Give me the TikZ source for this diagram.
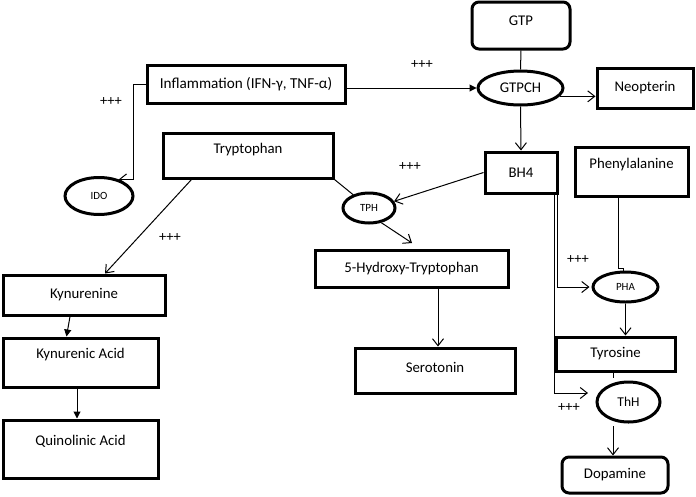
\documentclass[tikz,border=0pt]{standalone}
\usepackage{fontspec}
\setmainfont{Carlito}
\usetikzlibrary{arrows.meta,shapes.geometric}
\begin{document}
\begin{tikzpicture}[x=1pt,y=-1pt,
  big/.style={font=\fontsize{14.8}{17}\selectfont},
  box/.style={draw,rectangle,line width=3pt,inner sep=0pt,big},
  rbox/.style={box,rounded corners=7pt},
  enz/.style={draw,ellipse,line width=3pt,inner sep=0pt,fill=white},
  lift/.style={text depth=#1},
  conn/.style={line width=1pt},
  openarr/.style={conn,-{Straight Barb[length=7pt,width=11pt,line width=1pt]}},
  solidarr/.style={conn,-{Triangle[length=7pt,width=7pt]}},
  plus/.style={font=\fontsize{14.5}{16}\selectfont,inner sep=0pt},
  small/.style={font=\fontsize{11}{13}\selectfont}
]
\useasboundingbox (0,0) rectangle (696,496);

% nodes
\node[rbox,minimum width=98pt,minimum height=47pt,lift=9.6pt] (gtp) at (521,25.5) {GTP};
\node[enz,minimum width=85pt,minimum height=34pt,big] (gtpch) at (520.5,88) {GTPCH};
\node[box,minimum width=96pt,minimum height=40pt] (neo) at (645,88) {Neopterin};
\node[box,minimum width=198pt,minimum height=38pt,font=\fontsize{15.2}{17}\selectfont] (infl) at (246,84) {Inflammation (IFN-γ, TNF-α)};
\node[box,minimum width=170pt,minimum height=45pt,lift=13.6pt] (trp) at (248,155.5) {Tryptophan};
\node[enz,minimum width=68pt,minimum height=37pt,small] (ido) at (99,196) {IDO};
\node[box,minimum width=162pt,minimum height=40pt] (kyn) at (84,295) {Kynurenine};
\node[box,minimum width=155pt,minimum height=49pt,lift=17.6pt] (kyna) at (80.5,362.5) {Kynurenic Acid};
\node[box,minimum width=155pt,minimum height=58pt,lift=17.6pt] (quin) at (80.5,449) {Quinolinic Acid};
\node[enz,minimum width=52pt,minimum height=30pt,small] (tph) at (369,208) {TPH};
\node[box,minimum width=72pt,minimum height=41pt] (bh4) at (521,172.5) {BH4};
\node[box,minimum width=193pt,minimum height=37pt] (htp) at (411.5,268.5) {5-Hydroxy-Tryptophan};
\node[box,minimum width=160pt,minimum height=45pt,lift=7pt] (sero) at (435,370.5) {Serotonin};
\node[box,minimum width=113pt,minimum height=49pt,lift=16.6pt] (phe) at (631.5,171.5) {Phenylalanine};
\node[enz,minimum width=65pt,minimum height=30pt,small] (pha) at (625.5,287) {PHA};
\node[enz,minimum width=63pt,minimum height=40pt,font=\fontsize{13.5}{15}\selectfont] (thh) at (628.5,402) {ThH};
\node[box,minimum width=119pt,minimum height=34pt] (tyr) at (615.5,354) {Tyrosine};
\node[rbox,minimum width=106pt,minimum height=36pt] (dopa) at (615,475) {Dopamine};

% labels
\node[plus] (p1) at (422,65) {+++};
\node[plus] (p2) at (111,102) {+++};
\node[plus] (p3) at (170,238) {+++};
\node[plus] (p4) at (410,167) {+++};
\node[plus] (p5) at (578,260) {+++};
\node[plus] (p6) at (569,408) {+++};

% helper coordinates
\coordinate (tx) at (613,0);
\coordinate (tphend) at (412,243);
\coordinate (thin) at (588,393);

% connectors
\draw[conn] (gtp.south) -- (gtpch.north);
\draw[solidarr] (gtpch.west -| infl.east) -- (gtpch.west);
\draw[openarr] (gtpch.-12) -- (gtpch.-12 -| neo.west);
\draw[openarr] (gtpch.south) -- (bh4.north);
\draw[openarr] (infl.west) -- ++(-12,0) |- (ido.40);
\draw[openarr] ([xshift=30pt]trp.south west) -- ([xshift=21pt]kyn.north);
\draw[conn] (trp.south east) -- (tph.140);
\draw[openarr] (bh4.west) -- (tph.15);
\draw[openarr] (tph.-50) -- (tphend);
\draw[openarr] ([xshift=3pt]sero.north |- htp.south) -- ([xshift=3pt]sero.north);
\draw[solidarr] ([xshift=-14pt]kyn.south) -- ([xshift=-14pt]kyna.north);
\draw[solidarr] ([xshift=-3.5pt]kyna.south) -- ([xshift=-3.5pt]quin.north);
\draw[openarr,shorten >=2pt] ([xshift=-1pt]bh4.south east) |- (pha.west);
\draw[openarr] ([xshift=-4pt]bh4.south east) |- (thin);
\draw[conn] ([xshift=-13.5pt]phe.south) -- ++(0,71) -- ++(5,0) -- ([xshift=-2.5pt]pha.north);
\draw[openarr] (pha.south) -- (pha.south |- tyr.north);
\draw[conn,shorten >=2.5pt] (tyr.south -| tx) -- (thh.north -| tx);
\draw[openarr,shorten <=2.5pt] (thh.south -| tx) -- (dopa.north -| tx);
\end{tikzpicture}
\end{document}
